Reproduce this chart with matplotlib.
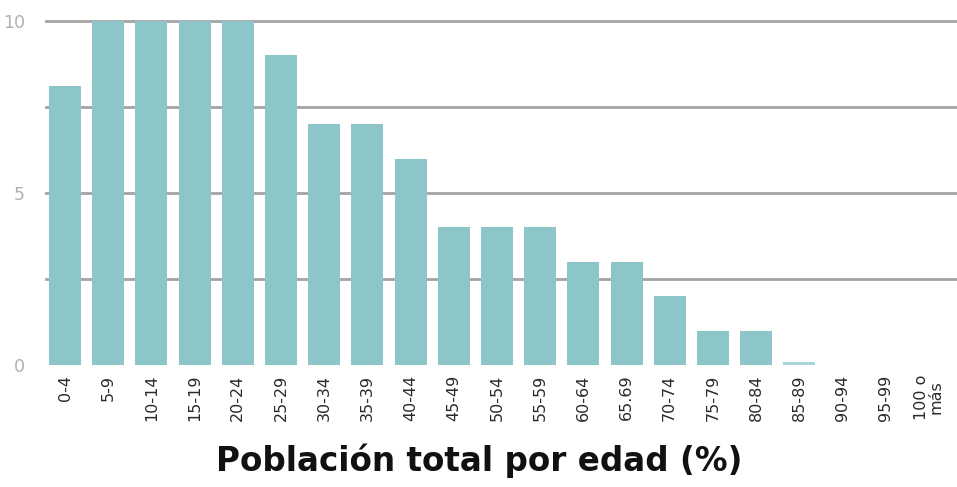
import matplotlib
matplotlib.use("Agg")
import matplotlib.pyplot as plt
import numpy as np

categories = ["0-4", "5-9", "10-14", "15-19", "20-24", "25-29", "30-34", "35-39",
              "40-44", "45-49", "50-54", "55-59", "60-64", "65.69", "70-74", "75-79",
              "80-84", "85-89", "90-94", "95-99", "100 o\nmás"]
values = [8.1, 10, 10, 10, 10, 9, 7, 7, 6, 4, 4, 4, 3, 3, 2, 1, 1, 0.08, 0, 0, 0]
yticks = [0, 5, 10]
gridlines = [2.5, 5, 7.5, 10]
title = "Población total por edad (%)"

plt.rcParams['font.family'] = ['DejaVu Sans']

W, H = 957, 487
fig = plt.figure(figsize=(W / 100, H / 100), dpi=100)
left, right = 46 / W, 957 / W
top, bottom = 1 - 21 / H, 1 - 365 / H
ax = fig.add_axes([left, bottom, right - left, top - bottom])

x = np.arange(len(categories))
for g in gridlines:
    ax.axhline(g, color="#a3a3a3", lw=2.0, zorder=1, clip_on=False)
colors = ["#8cc6c9"] * len(values)
colors[17] = "#a9d6d8"
ax.bar(x, values, width=0.74, color=colors, zorder=2)

ax.set_xlim(-0.44, 20.65)
ax.set_ylim(0, 10)
ax.set_xticks(x)
ax.set_xticklabels(categories, rotation=90, fontsize=11.5, color="#2a2a2a",
                   linespacing=0.95)
ax.set_yticks(yticks)
ax.set_yticklabels([str(v) for v in yticks], fontsize=12.5, color="#b0b0b0")
ax.tick_params(axis="both", length=0)
ax.tick_params(axis="y", pad=15)
ax.tick_params(axis="x", pad=7)
for s in ax.spines.values():
    s.set_visible(False)

fig.text(0.5 * (218 + 740) / W, 1 - 461 / H, title, ha="center", va="center",
         fontsize=23.5, fontweight="bold", color="#111111")

fig.savefig("out.png", dpi=100)
